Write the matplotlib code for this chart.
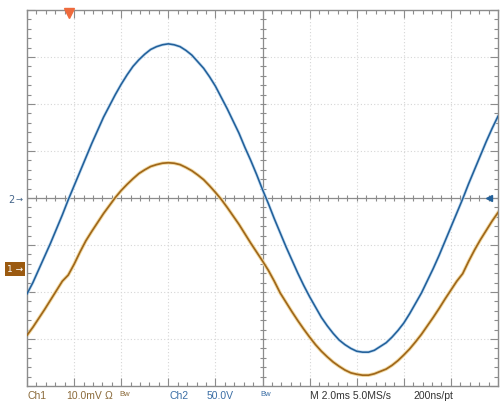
import numpy as np
import matplotlib.pyplot as plt

# scope settings
time_per_div = 2.0     # ms/div
ch1_per_div = 10.0     # mV/div
ch2_per_div = 50.0     # V/div
ch1_ground = -1.51     # ch1 ground marker, divisions from centre
trigger_t = 1.79       # ms, trigger point
trigger_level = 0.0    # V on ch2

# samples, every 0.25 ms
t_ms = np.arange(0, 20.01, 0.25)

ch2_v = [-102, -90, -76, -62, -48, -33, -18, -2, 13, 28,
         43, 58, 72, 86, 98, 110, 121, 131, 140, 147,
         153, 158, 161, 163, 164, 163, 161, 157, 152, 145,
         138, 129, 119, 107, 95, 82, 69, 54, 40, 25,
         9, -6, -22, -37, -52, -66, -80, -93, -105, -116,
         -127, -136, -144, -151, -156, -160, -163, -164, -164, -162,
         -158, -154, -148, -141, -133, -123, -112, -101, -88, -75,
         -61, -46, -31, -16, -1, 15, 30, 45, 60, 74, 87]

ch1_mv = [-14.1, -12.4, -10.5, -8.6, -6.6, -4.6, -2.6, -1.3, 1.0, 3.6,
          6.0, 8.0, 9.9, 11.8, 13.5, 15.2, 16.7, 18.0, 19.2, 20.3,
          21.1, 21.8, 22.2, 22.5, 22.6, 22.5, 22.2, 21.6, 20.9, 20.0,
          19.0, 17.7, 16.3, 14.8, 13.1, 11.3, 9.5, 7.5, 5.5, 3.6,
          1.7, -0.3, -2.6, -5.1, -7.1, -9.1, -11.0, -12.8, -14.5, -16.1,
          -17.5, -18.7, -19.8, -20.7, -21.5, -22.1, -22.4, -22.6, -22.6, -22.3,
          -21.8, -21.3, -20.5, -19.5, -18.3, -17.0, -15.5, -13.9, -12.1, -10.3,
          -8.4, -6.4, -4.5, -2.6, -1.0, 1.6, 4.0, 6.2, 8.2, 10.2, 12.0]

W, H = 501, 405
grid_col = '#8c8c8c'
blue = '#22609a'
brown = '#a0671a'


def px(x, y):
    return x / W, 1 - y / H


fig = plt.figure(figsize=(W / 100, H / 100), dpi=100)
ax = fig.add_axes([27 / W, 19 / H, 471 / W, 376 / H])
ax.set_xlim(0, 10 * time_per_div)
ax.set_ylim(-4, 4)

# dotted graticule
for x in np.arange(time_per_div, 10 * time_per_div, time_per_div):
    if abs(x - 5 * time_per_div) > 1e-6:
        ax.axvline(x, color='#d6d6d6', lw=0.8, ls=(0, (1, 2)), zorder=0)
for y in range(-3, 4):
    if y != 0:
        ax.axhline(y, color='#d6d6d6', lw=0.8, ls=(0, (1, 2)), zorder=0)

# centre cross with sub-division ticks
ax.axhline(0, color=grid_col, lw=0.9, zorder=1)
ax.axvline(5 * time_per_div, color=grid_col, lw=0.9, zorder=1)
sub_x = np.arange(0, 10 * time_per_div + 0.01, time_per_div / 5)
sub_y = np.arange(-4, 4.01, 0.2)
ax.plot(sub_x, np.zeros_like(sub_x), ls='none', marker='|', ms=5, mew=0.8, color=grid_col, zorder=1)
ax.plot(np.full_like(sub_y, 5 * time_per_div), sub_y, ls='none', marker='_', ms=5, mew=0.8, color=grid_col, zorder=1)

# border ticks
ax.set_xticks(np.arange(0, 10 * time_per_div + 0.01, time_per_div))
ax.set_xticks(sub_x, minor=True)
ax.set_yticks(np.arange(-4, 5, 1))
ax.set_yticks(sub_y, minor=True)
ax.tick_params(which='both', direction='in', top=True, right=True,
               labelbottom=False, labelleft=False, color=grid_col, width=0.8)
ax.tick_params(which='major', length=6)
ax.tick_params(which='minor', length=3)
for s in ax.spines.values():
    s.set_color(grid_col)
    s.set_linewidth(1.0)

# traces
ch2_div = np.array(ch2_v) / ch2_per_div
ch1_div = np.array(ch1_mv) / ch1_per_div + ch1_ground
ax.plot(t_ms, ch2_div, color='#c4dcf0', lw=2.2, zorder=2)
ax.plot(t_ms, ch2_div, color=blue, lw=1.15, zorder=3)
ax.plot(t_ms, ch1_div, color='#f2dca8', lw=2.6, zorder=2)
ax.plot(t_ms, ch1_div, color=brown, lw=1.25, zorder=3)

# trigger markers
ax.plot([trigger_t], [3.93], marker='v', ms=7, color='#ee6a3c', clip_on=False, zorder=5)
ax.plot([19.6], [trigger_level / ch2_per_div], marker='<', ms=5, color=blue, clip_on=False, zorder=5)

# channel markers on the left
fig.text(*px(11, 200), '2', color='#44658a', fontsize=7, ha='center', va='center')
fig.text(*px(19, 199), '\u2192', color='#44658a', fontsize=6, ha='center', va='center')
fig.text(*px(15, 269), '1 \u2192', color='white', fontsize=6.5, ha='center', va='center',
         bbox=dict(boxstyle='square,pad=0.25', fc='#9b5a10', ec='none'))

# readout line
fs = 7.5
fam = ['Liberation Sans', 'DejaVu Sans']
ch1_col = '#8a6a3a'
ch2_col = '#3b6ea5'
fig.text(*px(27, 396), 'Ch1', color=ch1_col, fontsize=fs, family=fam, va='center')
fig.text(*px(66, 396), '10.0mV', color=ch1_col, fontsize=fs, family=fam, va='center')
fig.text(*px(105, 396), '\u03a9', color=ch1_col, fontsize=fs, family=fam, va='center')
fig.text(*px(119, 394), 'Bw', color=ch1_col, fontsize=5.5, family=fam, va='center')
fig.text(*px(169, 396), 'Ch2', color=ch2_col, fontsize=fs, family=fam, va='center')
fig.text(*px(207, 396), '50.0V', color=ch2_col, fontsize=fs, family=fam, va='center')
fig.text(*px(260, 394), 'Bw', color=ch2_col, fontsize=5.5, family=fam, va='center')
fig.text(*px(310, 396), 'M 2.0ms 5.0MS/s', color='#333333', fontsize=fs, family=fam, va='center')
fig.text(*px(413, 396), '200ns/pt', color='#333333', fontsize=fs, family=fam, va='center')

fig.savefig('out.png', dpi=100)
